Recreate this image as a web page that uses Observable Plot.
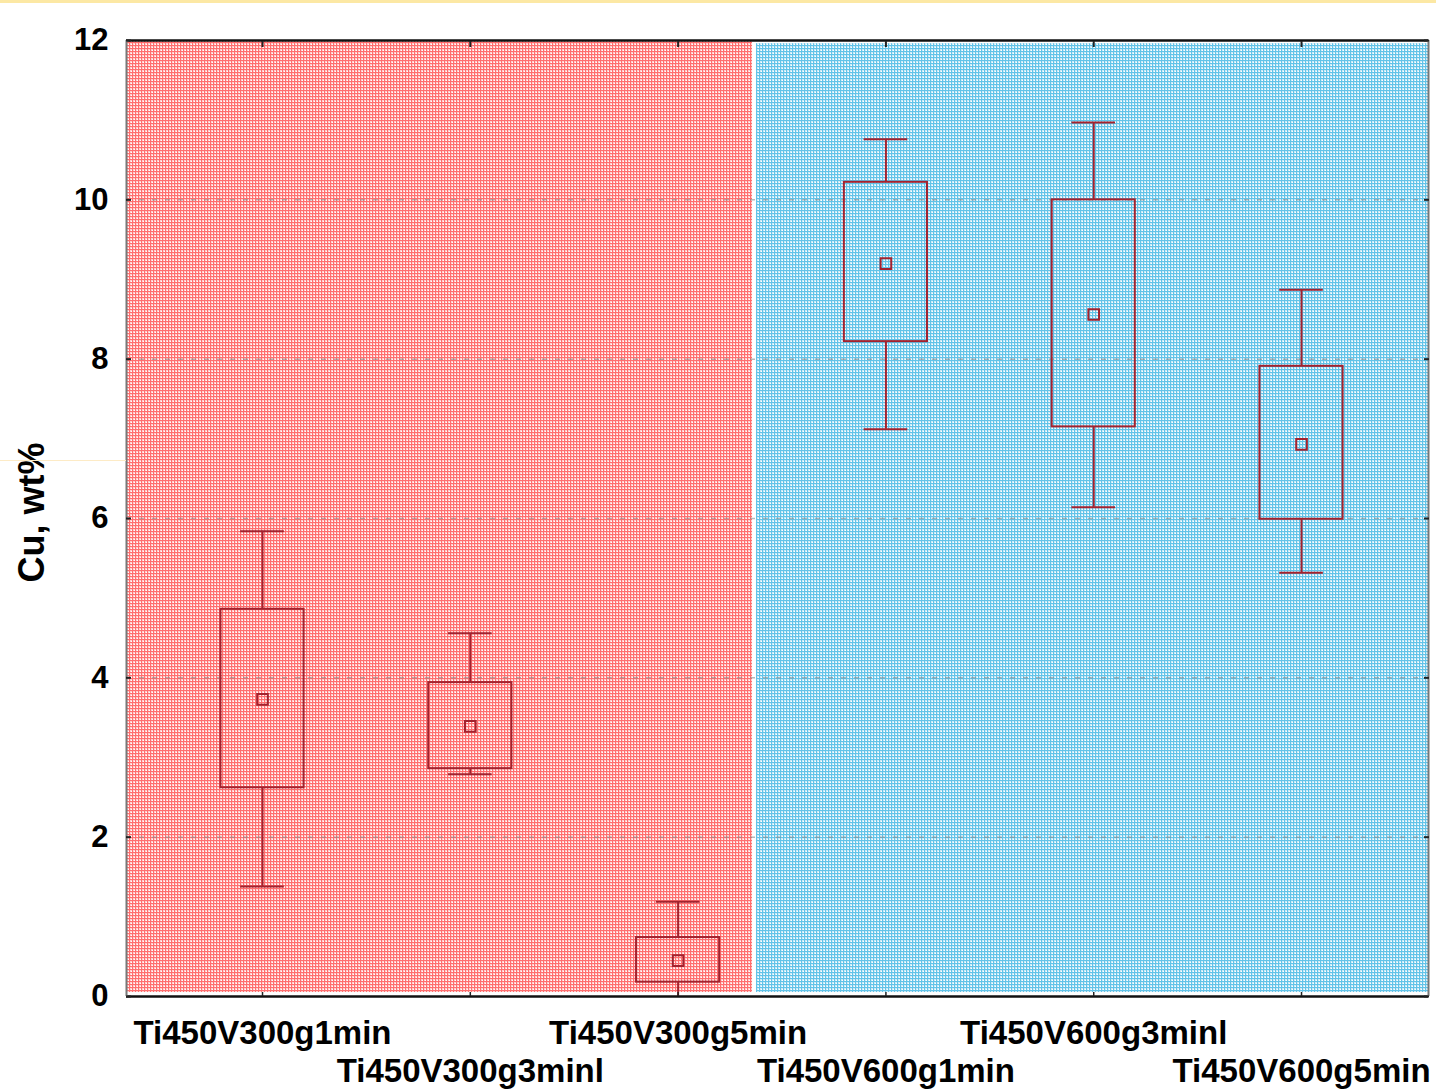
<!DOCTYPE html>
<html>
<head>
<meta charset="utf-8">
<script src="https://cdn.jsdelivr.net/npm/d3@7"></script>
<script src="https://cdn.jsdelivr.net/npm/@observablehq/plot@0.6"></script>
<style>
  body { margin: 0; background: #fff; font-family: "Liberation Sans", Arial, sans-serif; }
  #chart { position: relative; width: 1436px; height: 1090px; overflow: hidden; }
  .topline { position: absolute; left: 0; top: 0; width: 1436px; height: 3px; background: #fce8a4; }
  .midline { position: absolute; left: 0; top: 460px; width: 126px; height: 1px; background: #fdebc6; }
</style>
</head>
<body>
<div id="chart"><div class="topline"></div><div class="midline"></div></div>
<script>
// ---- data ----
const categories = ["Ti450V300g1min", "Ti450V300g3minl", "Ti450V300g5min",
                    "Ti450V600g1min", "Ti450V600g3minl", "Ti450V600g5min"];
const whiskerHigh = [5.84, 4.56, 1.19, 10.76, 10.97, 8.87];
const boxHigh     = [4.86, 3.94, 0.74, 10.22, 10.00, 7.91];
const means       = [3.73, 3.39, 0.45, 9.20, 8.56, 6.93];
const boxLow      = [2.62, 2.86, 0.18, 8.22, 7.15, 5.99];
const whiskerLow  = [1.38, 2.79, -0.10, 7.12, 6.14, 5.32];
const yTicks = [0, 2, 4, 6, 8, 10, 12];
const groupNames = ["V300", "V600"];

// ---- derived table ----
const stats = categories.map((c, k) => ({
  cat: c, i: k + 1, row: k % 2,
  hi: whiskerHigh[k], q3: boxHigh[k], mean: means[k], q1: boxLow[k], lo: whiskerLow[k]
}));

const xDomain = [0.3455, 6.611];
const split = [3.358, 3.377];
const groups = [
  {name: groupNames[0], x1: xDomain[0], x2: split[0]},
  {name: groupNames[1], x1: split[1], x2: xDomain[1]}
];
const boxHalf = 0.2, capHalf = 0.105;
const boxColor = "#a3222e";
const catIdx = categories.map((c, k) => k + 1);

// pattern definitions as a function mark
function patternDefs() {
  const ns = "http://www.w3.org/2000/svg";
  const defs = document.createElementNS(ns, "defs");
  const mk = (id, base, line) => {
    const p = document.createElementNS(ns, "pattern");
    p.setAttribute("id", id);
    p.setAttribute("width", "3");
    p.setAttribute("height", "3");
    p.setAttribute("patternUnits", "userSpaceOnUse");
    const parts = [
      {width: 3, height: 3, fill: base},
      {width: 3, height: 1, fill: line},
      {width: 1, height: 3, fill: line},
      {x: 2, y: 2, width: 1, height: 1, fill: "#ffffff"}
    ];
    for (const a of parts) {
      const r = document.createElementNS(ns, "rect");
      for (const k in a) r.setAttribute(k, a[k]);
      p.appendChild(r);
    }
    defs.appendChild(p);
  };
  mk("redGrid", "#ffcfcf", "#ff6e6e");
  mk("blueGrid", "#cdebf7", "#62c3e8");
  return defs;
}

const plot = Plot.plot({
  width: 1436,
  height: 1090,
  marginLeft: 126,
  marginRight: 8,
  marginTop: 40,
  marginBottom: 94,
  style: {fontFamily: "'Liberation Sans', Arial, sans-serif", background: "transparent", overflow: "visible"},
  x: {type: "linear", domain: xDomain},
  y: {domain: [0, 12]},
  marks: [
    patternDefs,
    Plot.rect([groups[0]], {x1: "x1", x2: "x2", y1: 0.05, y2: 12, fill: "url(#redGrid)"}),
    Plot.rect([groups[1]], {x1: "x1", x2: "x2", y1: 0.05, y2: 11.96, fill: "url(#blueGrid)"}),
    Plot.gridY({ticks: [2, 4, 6, 8, 10], stroke: "#8a8a8a", strokeOpacity: 0.6, strokeWidth: 1.5, strokeDasharray: "5,8"}),
    // whiskers
    Plot.ruleX(stats, {x: "i", y1: "q3", y2: "hi", stroke: boxColor, strokeWidth: 2}),
    Plot.ruleX(stats, {x: "i", y1: "lo", y2: "q1", stroke: boxColor, strokeWidth: 2, clip: true}),
    Plot.ruleY(stats, {y: "hi", x1: d => d.i - capHalf, x2: d => d.i + capHalf, stroke: boxColor, strokeWidth: 2}),
    Plot.ruleY(stats, {y: "lo", x1: d => d.i - capHalf, x2: d => d.i + capHalf, stroke: boxColor, strokeWidth: 2, clip: true}),
    // boxes
    Plot.rect(stats, {x1: d => d.i - boxHalf, x2: d => d.i + boxHalf, y1: "q1", y2: "q3", fill: "none", stroke: boxColor, strokeWidth: 2}),
    // means
    Plot.dot(stats, {x: "i", y: "mean", symbol: "square", r: 6, fill: "none", stroke: boxColor, strokeWidth: 2}),
    // frame
    Plot.ruleY([0, 12], {stroke: "#111", strokeWidth: 2.5}),
    Plot.ruleX(xDomain, {stroke: "#777", strokeWidth: 2}),
    // inward ticks
    Plot.axisY({anchor: "left", ticks: yTicks, tickSize: -5, tickFormat: () => "", stroke: "#222", strokeWidth: 2}),
    Plot.axisY({anchor: "right", ticks: yTicks, tickSize: -5, tickFormat: () => "", stroke: "#222", strokeWidth: 2}),
    Plot.axisX({anchor: "top", ticks: catIdx, tickSize: -6, tickFormat: () => "", stroke: "#222", strokeWidth: 2}),
    Plot.axisX({anchor: "bottom", ticks: catIdx, tickSize: -4, tickFormat: () => "", stroke: "#222", strokeWidth: 1.5}),
    // tick labels
    Plot.axisY({anchor: "left", ticks: yTicks, tickSize: 0, tickPadding: 18, fontSize: 31, fontWeight: "bold", fill: "#000", label: null}),
    Plot.text(stats.filter(d => d.row === 0), {x: "i", text: "cat", frameAnchor: "bottom", lineAnchor: "middle", dy: 37, fontSize: 33, fontWeight: "bold", fill: "#000"}),
    Plot.text(stats.filter(d => d.row === 1), {x: "i", text: "cat", frameAnchor: "bottom", lineAnchor: "middle", dy: 75, fontSize: 33, fontWeight: "bold", fill: "#000"}),
    // y label
    Plot.text(["Cu, wt%"], {text: d => d, frameAnchor: "left", textAnchor: "middle", lineAnchor: "middle", dx: -94, dy: -6, rotate: -90, fontSize: 36, fontWeight: "bold", fill: "#000"})
  ]
});

document.getElementById("chart").appendChild(plot);
</script>
</body>
</html>
